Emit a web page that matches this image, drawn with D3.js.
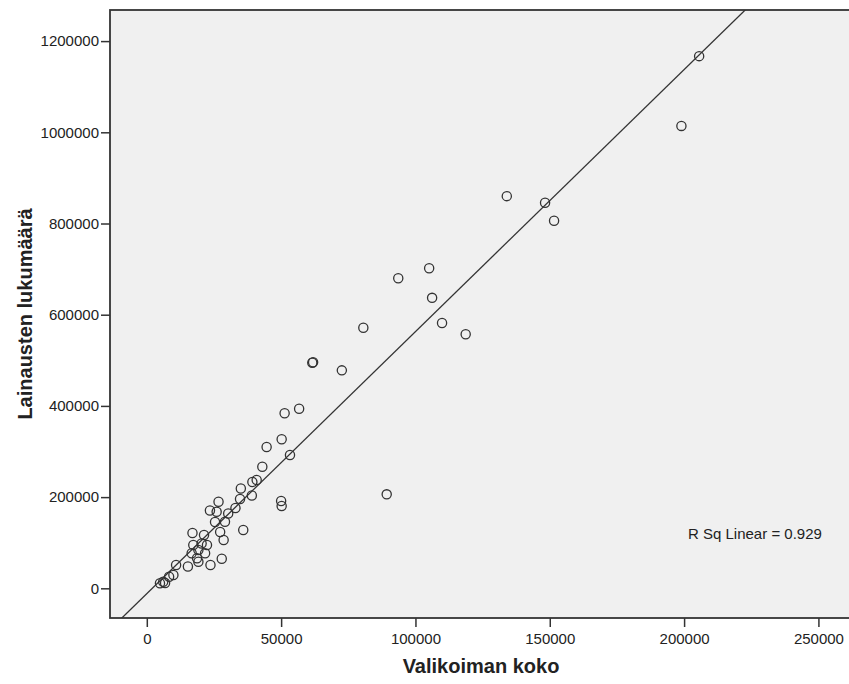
<!DOCTYPE html>
<html lang="fi">

<head>
    <meta charset="UTF-8">
    <title>Valikoiman koko vs. lainausten lukumäärä</title>
    <script src="https://cdnjs.cloudflare.com/ajax/libs/d3/7.8.5/d3.min.js"></script>
    <style>
        body {
            margin: 0;
            background: white;
        }

        svg#main {
            display: block;
        }

        .tick text {
            font-family: 'Liberation Sans', Arial, sans-serif;
            font-size: 15px;
            fill: #222;
        }

        .tick line {
            stroke: #333;
            stroke-width: 1.5px;
        }

        .domain {
            display: none;
        }

        .axis-title {
            font-family: 'Liberation Sans', Arial, sans-serif;
            font-weight: bold;
            font-size: 20px;
            fill: #222;
        }

        circle.point {
            fill: none;
            stroke: #333;
            stroke-width: 1.3px;
        }

        line.fit {
            stroke: #333;
            stroke-width: 1.3px;
        }
    </style>
</head>

<body>
    <svg id="main" width="849" height="684"></svg>
    <script>
        "use strict";

        // valikoiman koko (x) ja lainausten lukumäärä (y), luettu kuvasta
        const valikoima = [
            205600, 199000, 134000, 148250, 151600, 105100, 93600, 106200, 80600, 109900,
            118700, 61600, 61900, 72600, 56700, 51300, 50200, 44600, 53300, 43000,
            40900, 39300, 89300, 50000, 50200, 35000, 39100, 34700, 26700, 33000,
            23500, 26000, 30300, 25400, 29100, 35900, 27300, 17000, 21300, 28600,
            17300, 20400, 22400, 19200, 16700, 21700, 18700, 27900, 23700, 19200,
            15300, 10900, 9900, 8300, 6100, 4900, 6800
        ];
        const lainaukset = [
            1167000, 1014000, 860000, 845600, 806000, 702000, 680000, 637000, 571500, 581800,
            557000, 494700, 495800, 478000, 393900, 383800, 326800, 309900, 292300, 266700,
            237500, 233100, 206100, 191400, 180500, 218900, 203500, 195800, 189900, 176100,
            170600, 168000, 164000, 145400, 146100, 127900, 123500, 121300, 116900, 105900,
            95000, 98200, 95000, 84000, 76800, 76800, 65800, 64900, 51100, 58300,
            47800, 51100, 29200, 25400, 14500, 11000, 11600
        ];

        const xTicks = [0, 50000, 100000, 150000, 200000, 250000];
        const yTicks = [0, 200000, 400000, 600000, 800000, 1000000, 1200000];

        // sovitettu suora, luettu kuvasta
        const fitSlope = 5.746;
        const fitIntercept = -11700;
        const rSquared = 0.929;

        const plot = { left: 110, top: 10, right: 852, bottom: 618 };

        const svg = d3.select("svg#main");

        const x = d3.scaleLinear()
            .domain([-13700, 262500])
            .range([plot.left, plot.right]);

        const y = d3.scaleLinear()
            .domain([-65100, 1268200])
            .range([plot.bottom, plot.top]);

        svg.append("defs").append("clipPath")
            .attr("id", "plotClip")
            .append("rect")
            .attr("x", plot.left)
            .attr("y", plot.top)
            .attr("width", plot.right - plot.left)
            .attr("height", plot.bottom - plot.top);

        // Background

        svg.append("rect")
            .attr("x", plot.left)
            .attr("y", plot.top)
            .attr("width", plot.right - plot.left)
            .attr("height", plot.bottom - plot.top)
            .attr("fill", "#f0f0f0");

        // Axes

        svg.append("g")
            .attr("transform", "translate(0," + plot.bottom + ")")
            .call(d3.axisBottom(x).tickValues(xTicks).tickFormat(d3.format("d")).tickSize(9).tickPadding(6));

        svg.append("g")
            .attr("transform", "translate(" + plot.left + ",0)")
            .call(d3.axisLeft(y).tickValues(yTicks).tickFormat(d3.format("d")).tickSize(9).tickPadding(2));

        // Fit line and points

        const content = svg.append("g")
            .attr("clip-path", "url(#plotClip)");

        const [x0, x1] = x.domain();
        content.append("line")
            .attr("class", "fit")
            .attr("x1", x(x0))
            .attr("y1", y(fitSlope * x0 + fitIntercept))
            .attr("x2", x(x1))
            .attr("y2", y(fitSlope * x1 + fitIntercept));

        content.selectAll("circle.point")
            .data(d3.zip(valikoima, lainaukset))
            .enter()
            .append("circle")
            .attr("class", "point")
            .attr("cx", d => x(d[0]))
            .attr("cy", d => y(d[1]))
            .attr("r", 4.6);

        // Frame

        svg.append("rect")
            .attr("x", plot.left)
            .attr("y", plot.top)
            .attr("width", plot.right - plot.left)
            .attr("height", plot.bottom - plot.top)
            .attr("fill", "none")
            .attr("stroke", "#333")
            .attr("stroke-width", 1.8);

        // Texts

        svg.append("text")
            .attr("x", 688)
            .attr("y", 539)
            .style("font-family", "'Liberation Sans', Arial, sans-serif")
            .style("font-size", "15px")
            .style("fill", "#222")
            .text("R Sq Linear = " + rSquared.toFixed(3));

        svg.append("text")
            .attr("class", "axis-title")
            .attr("x", (plot.left + plot.right) / 2)
            .attr("y", 673)
            .attr("text-anchor", "middle")
            .text("Valikoiman koko");

        svg.append("text")
            .attr("class", "axis-title")
            .attr("transform", "translate(32," + (plot.top + plot.bottom) / 2 + ") rotate(-90)")
            .attr("text-anchor", "middle")
            .text("Lainausten lukumäärä");
    </script>
</body>

</html>
